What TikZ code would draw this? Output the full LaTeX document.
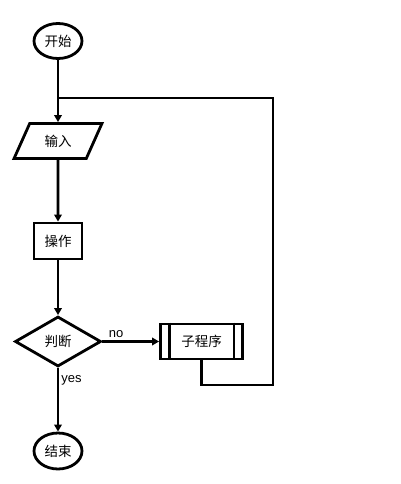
\documentclass[tikz,border=0pt]{standalone}
\usepackage{fontspec}
\setmainfont{Liberation Sans}
\newfontfamily\cjk{Noto Sans CJK SC}
\usepackage{tikz}
\usetikzlibrary{shapes.geometric}
\usetikzlibrary{arrows.meta}

\tikzset{
	box/.style={draw,line width=2.8pt,font=\cjk\fontsize{13.5}{15}\selectfont,inner sep=0pt},
	flow/.style={line width=2.8pt,-{Triangle[length=7pt,width=7.5pt]}},
	link/.style={line width=2.8pt},
	tag/.style={font=\fontsize{13}{15}\selectfont,inner sep=2pt}
}

\begin{document}
\begin{tikzpicture}[x=1pt,y=-1pt]
\useasboundingbox (0,0) rectangle (400,484);
		\coordinate (merge) at (58,98);
		\coordinate (turn) at (273,385);
		\node[box,ellipse,minimum width=48,minimum height=35] (start) at (58,41) {开始};
		\node[box,trapezium,trapezium left angle=59,trapezium right angle=121,minimum width=88,minimum height=35,trapezium stretches=true] (input) at (58,141) {输入};
		\node[box,rectangle,minimum width=48,minimum height=36] (op) at (58,241) {操作};
		\node[box,diamond,minimum width=86,minimum height=50,aspect=1.7] (decide) at (58,341.5) {判断};
		\node[box,rectangle,minimum width=82,minimum height=35] (sub) at (201.5,341.5) {子程序};
		\node[box,ellipse,minimum width=48,minimum height=36] (end) at (58,451) {结束};
		\draw[link] ([xshift=10]sub.north west) -- ([xshift=10]sub.south west);
		\draw[link] ([xshift=-10]sub.north east) -- ([xshift=-10]sub.south east);
		\draw[flow] (start) -- (input);
		\draw[flow] (input) -- (op);
		\draw[flow] (op) -- (decide);
		\draw[flow] (decide) -- node[tag,above,pos=0.24]{no} (sub);
		\draw[flow] (decide) -- node[tag,right,pos=0.2]{yes} (end);
		\draw[link] (sub.south) |- (turn) |- (merge);
\end{tikzpicture}
\end{document}
